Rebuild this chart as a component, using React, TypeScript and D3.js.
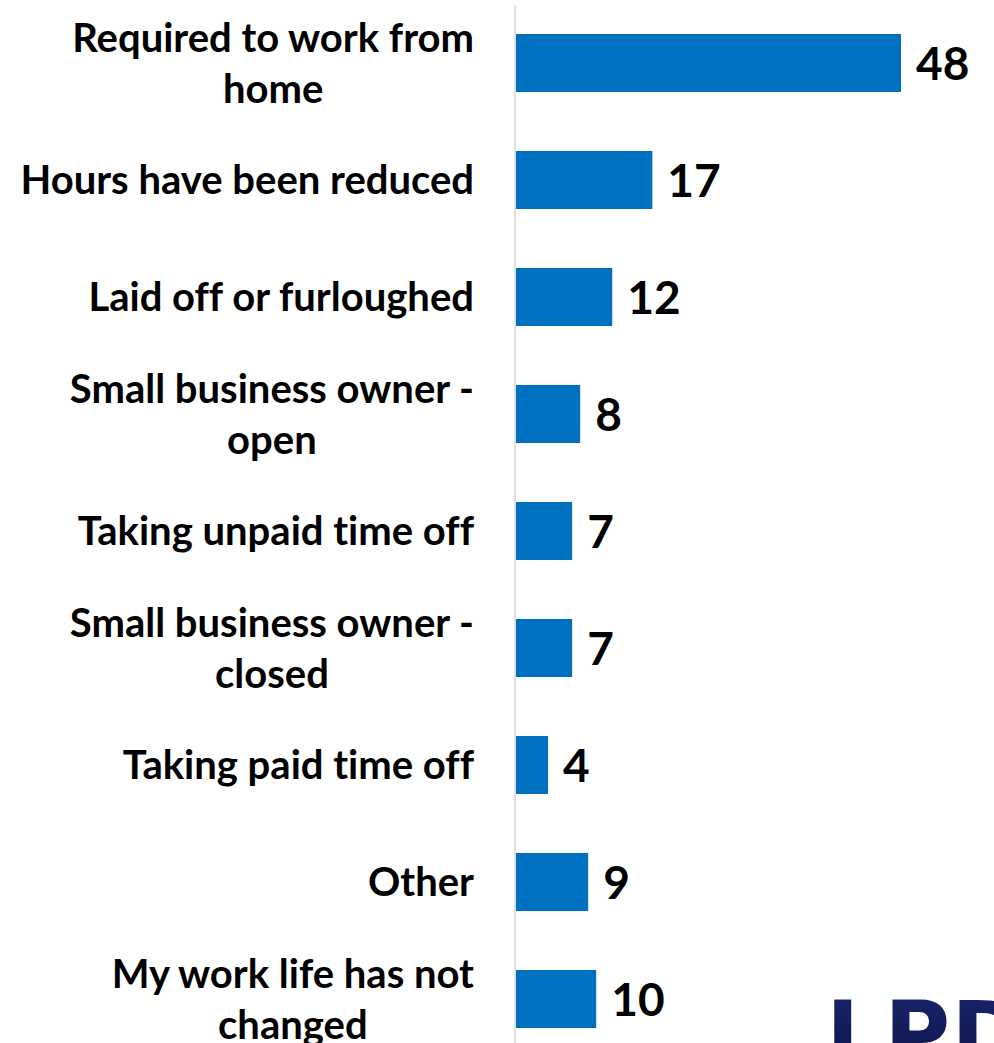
import React, { useEffect, useRef } from "react";
import * as d3 from "d3";

// categories top to bottom, each label already split in the lines seen on the chart
const categories = [
  "Required to work from home",
  "Hours have been reduced",
  "Laid off or furloughed",
  "Small business owner - open",
  "Taking unpaid time off",
  "Small business owner - closed",
  "Taking paid time off",
  "Other",
  "My work life has not changed",
];
const labelLines = [
  ["Required to work from", "home"],
  ["Hours have been reduced"],
  ["Laid off or furloughed"],
  ["Small business owner -", "open"],
  ["Taking unpaid time off"],
  ["Small business owner -", "closed"],
  ["Taking paid time off"],
  ["Other"],
  ["My work life has not", "changed"],
];
const values = [48, 17, 12, 8, 7, 7, 4, 9, 10];

const W = 994;
const H = 1043;
const FONT = "Lato, 'Open Sans', sans-serif";

export default function App() {
  const svgRef = useRef<SVGSVGElement>(null);

  useEffect(() => {
    document.body.style.margin = "0";
    document.body.style.overflow = "hidden";
    if (!svgRef.current) return;
    const svg = d3.select(svgRef.current);
    svg.selectAll("*").remove();

    const x = d3.scaleLinear().domain([0, 48]).range([516, 901]);
    const y = d3
      .scaleBand<string>()
      .domain(categories)
      .range([4.5, 1057.5])
      .paddingInner(0.504)
      .paddingOuter(0.252);

    const labelRight = 474;
    const lineGap = 51;

    // logo fragment in the corner (cut off by the page edge, as in the source)
    const defs = svg.append("defs");
    const grad = defs
      .append("linearGradient")
      .attr("id", "logoGrad")
      .attr("x1", 0)
      .attr("y1", 0)
      .attr("x2", 0)
      .attr("y2", 1);
    grad.append("stop").attr("offset", "0%").attr("stop-color", "#1a2570");
    grad.append("stop").attr("offset", "100%").attr("stop-color", "#0b1240");

    svg
      .append("text")
      .attr("x", 826)
      .attr("y", 1066)
      .attr("fill", "url(#logoGrad)")
      .style("font-family", "'DejaVu Sans', sans-serif")
      .style("font-weight", 700)
      .style("font-size", "90px")
      .style("letter-spacing", "1px")
      .text("LPD");

    // axis line
    svg
      .append("line")
      .attr("x1", 515)
      .attr("x2", 515)
      .attr("y1", 5)
      .attr("y2", H)
      .attr("stroke", "#d9d9d9")
      .attr("stroke-width", 1.6);

    // bars
    svg
      .selectAll(".bar")
      .data(values)
      .enter()
      .append("rect")
      .attr("class", "bar")
      .attr("x", x(0))
      .attr("y", (d, i) => y(categories[i]) as number)
      .attr("width", (d) => x(d) - x(0))
      .attr("height", y.bandwidth())
      .attr("fill", "#0070c0");

    // value labels
    svg
      .selectAll(".val")
      .data(values)
      .enter()
      .append("text")
      .attr("class", "val")
      .attr("x", (d) => x(d) + 15)
      .attr("y", (d, i) => (y(categories[i]) as number) + y.bandwidth() / 2)
      .attr("dy", "0.36em")
      .attr("fill", "#000")
      .style("font-family", FONT)
      .style("font-weight", 700)
      .style("font-size", "46px")
      .text((d) => d);

    // category labels, multi-line ones centred on their widest line
    labelLines.forEach((lines, i) => {
      const cy = (y(categories[i]) as number) + y.bandwidth() / 2;
      const g = svg.append("g");
      const texts = lines.map((ln, k) =>
        g
          .append("text")
          .attr("y", cy + (k - (lines.length - 1) / 2) * lineGap)
          .attr("dy", "0.36em")
          .attr("fill", "#000")
          .style("font-family", FONT)
          .style("font-weight", 700)
          .style("font-size", "40px")
          .style("font-variant-ligatures", "none")
          .text(ln)
      );
      if (lines.length === 1) {
        texts[0].attr("x", labelRight).attr("text-anchor", "end");
      } else {
        const maxW = d3.max(texts, (t) => (t.node() as SVGTextElement).getComputedTextLength()) || 0;
        texts.forEach((t) =>
          t.attr("x", labelRight - maxW / 2).attr("text-anchor", "middle")
        );
      }
    });
  }, []);

  return <svg ref={svgRef} width={W} height={H} style={{ display: "block", background: "#fff" }} />;
}
